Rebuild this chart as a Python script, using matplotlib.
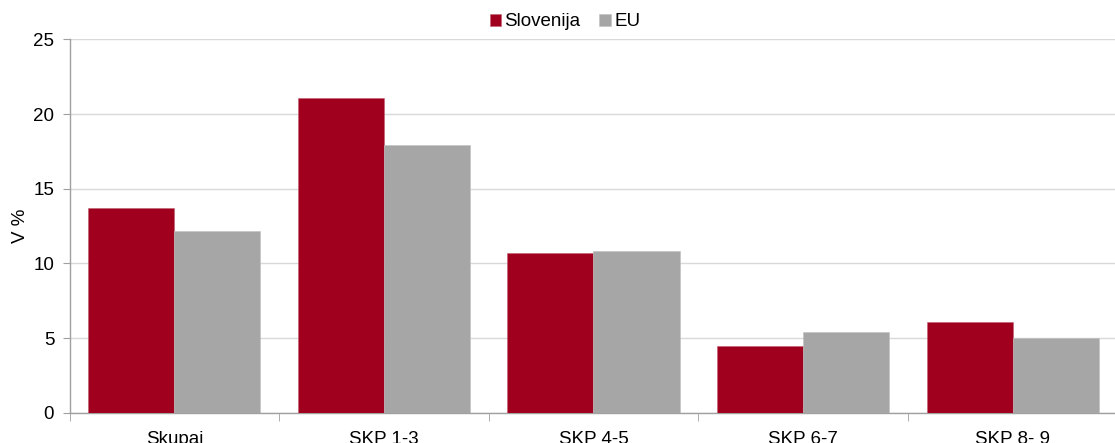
import matplotlib
matplotlib.use("Agg")
import matplotlib.pyplot as plt
import numpy as np

categories = ["Skupaj", "SKP 1-3", "SKP 4-5", "SKP 6-7", "SKP 8- 9"]
slovenija = [13.7, 21.1, 10.7, 4.45, 6.05]
eu = [12.2, 17.9, 10.8, 5.4, 5.0]
series_names = ["Slovenija", "EU"]
yticks = [0, 5, 10, 15, 20, 25]

plt.rcParams['font.family'] = ['Liberation Sans', 'DejaVu Sans']

W, H = 1115, 443
fig = plt.figure(figsize=(W/100, H/100), dpi=100)
left, right, bottom, top = 69.5, 1117.5, 412.7, 39.4
ax = fig.add_axes([left/W, (H-bottom)/H, (right-left)/W, (bottom-top)/H])

x = np.arange(len(categories))
bw = 0.411
red = "#A0001E"
grey = "#A6A6A6"
ax.bar(x - bw/2, slovenija, bw, color=red, edgecolor="#C06070", linewidth=0.4, label=series_names[0], zorder=3)
ax.bar(x + bw/2, eu, bw, color=grey, edgecolor="#C0C0C0", linewidth=0.4, label=series_names[1], zorder=3)

ax.set_xlim(-0.5, len(categories) - 0.5)
ax.set_ylim(0, 25)
ax.set_yticks(yticks)
ax.set_yticklabels([str(t) for t in yticks])
ax.yaxis.grid(True, color="#D9D9D9", linewidth=1.0, zorder=0)
ax.set_axisbelow(True)

ax.set_xticks(x)
ax.set_xticklabels(categories)
ax.set_xticks(np.arange(len(categories) + 1) - 0.5, minor=True)
ax.tick_params(axis='x', which='major', length=0, pad=13, labelsize=13.5)
ax.tick_params(axis='x', which='minor', length=6, color="#A0A0A0", direction='out')
ax.tick_params(axis='y', length=5, color="#A0A0A0", direction='out', labelsize=13.5, pad=6)

for s in ["top", "right"]:
    ax.spines[s].set_visible(False)
for s in ["left", "bottom"]:
    ax.spines[s].set_color("#A0A0A0")
    ax.spines[s].set_linewidth(1.0)

ax.set_ylabel("V %", fontsize=13.5, labelpad=3)

leg = fig.legend(loc="center", bbox_to_anchor=(565/W, 1 - 22/H), ncol=2, frameon=False,
                 fontsize=13.5, handlelength=0.6, handleheight=0.6, handletextpad=0.2,
                 columnspacing=1.0)

fig.savefig("out.png", dpi=100)
